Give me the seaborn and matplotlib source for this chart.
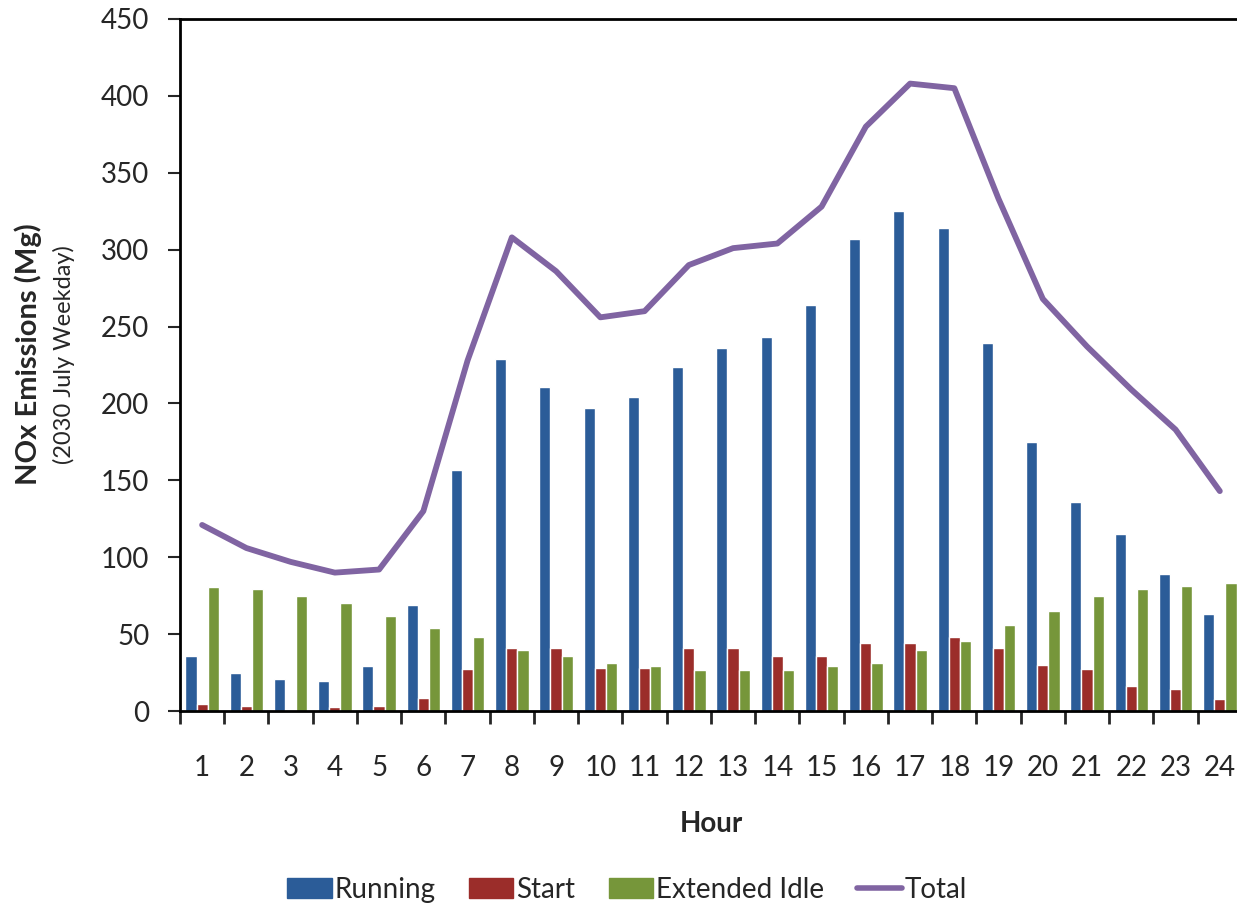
# NOx emissions by hour - bars per process plus total line
import numpy as np; import pandas as pd
import matplotlib
matplotlib.use("Agg")
import matplotlib.pyplot as plt
import seaborn as sns
from matplotlib.patches import Patch
from matplotlib.lines import Line2D

hours = [str(h) for h in range(1, 25)]
running = [36, 24.5, 21, 19.7, 29, 69, 157, 229, 211, 197, 204, 224,
           236, 243, 264, 307, 325, 314, 239, 175, 136, 115, 89, 63]
start = [4.5, 3.5, 0.5, 2.5, 3.5, 8.5, 27, 41, 41, 28, 28, 41,
         41, 36, 36, 44, 44, 48, 41, 30, 27, 16, 14, 8]
ext_idle = [80.7, 79.4, 74.7, 70, 62, 54, 48, 39.6, 36, 31, 29, 26.6,
            26.6, 26.6, 29, 31.4, 39.6, 45.4, 56, 65, 74.7, 79.4, 81.6, 83]
total = [121, 106, 97, 90, 92, 130, 228, 308, 286, 256, 260, 290,
         301, 304, 328, 380, 408, 405, 333, 268, 237, 209, 183, 143]
series = ["Running", "Start", "Extended Idle"]
colors = ["#2B5C98", "#9B2D2A", "#76963A"]
line_color = "#8064A2"

sns.set_style("white")
plt.rcParams["font.family"] = ["Lato", "DejaVu Sans"]

df = pd.DataFrame({"Hour": hours * 3,
                   "Emissions": running + start + ext_idle,
                   "Process": np.repeat(series, 24)})

fig = plt.figure(figsize=(12.37, 9.09), dpi=100)
ax = fig.add_axes([0.1455, 0.2178, 0.8585, 0.7613])

sns.barplot(data=df, x="Hour", y="Emissions", hue="Process", order=hours,
            hue_order=series, palette=colors, width=0.76, saturation=1,
            legend=False, ax=ax)
sns.pointplot(x=hours, y=total, order=hours, color=line_color, markers="",
              linewidth=4.2, ax=ax)

ax.set_xlim(-0.5, 23.5)
ax.set_ylim(0, 450)
ax.set_yticks(range(0, 451, 50))
ax.tick_params(axis="y", labelsize=20, length=9, width=1.5, pad=13, direction="out", left=True)
ax.tick_params(axis="x", which="major", labelsize=20, length=0, pad=32)
ax.set_xticks(np.arange(-0.5, 24, 1), minor=True)
ax.tick_params(axis="x", which="minor", length=9, width=2, direction="out", bottom=True)
for s in ["left", "bottom", "top"]:
    ax.spines[s].set_visible(True)
    ax.spines[s].set_color("black")
    ax.spines[s].set_linewidth(2)
ax.spines["right"].set_visible(False)

ax.set_xlabel("Hour", fontsize=20, fontweight="bold", labelpad=21)
ax.set_ylabel("")
fig.text(0.023, 0.61, "NOx Emissions (Mg)", rotation=90, fontsize=21,
         fontweight="bold", ha="center", va="center")
fig.text(0.052, 0.61, "(2030 July Weekday)", rotation=90, fontsize=17,
         ha="center", va="center")

handles = [Patch(color=c) for c in colors] + [Line2D([0], [0], color=line_color, lw=4)]
fig.legend(handles, series + ["Total"], loc="center", bbox_to_anchor=(0.507, 0.021),
           ncol=4, frameon=False, fontsize=20, handlelength=1.6, handletextpad=0.1,
           columnspacing=1.2)

plt.savefig("out.png", dpi=100)
